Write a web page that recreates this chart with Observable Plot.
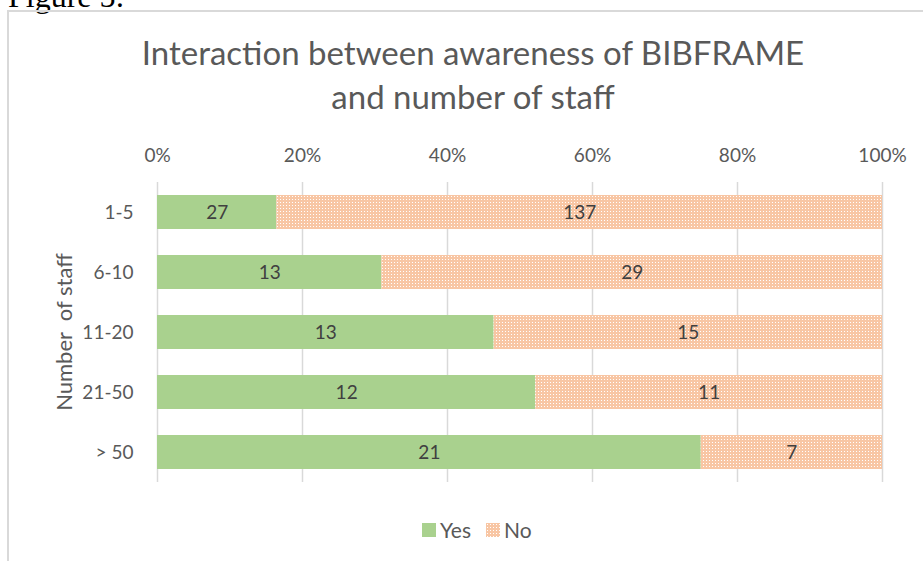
<!DOCTYPE html>
<html><head><meta charset="utf-8">
<script src="https://cdn.jsdelivr.net/npm/d3@7"></script>
<script src="https://cdn.jsdelivr.net/npm/@observablehq/plot@0.6"></script>
<style>
html,body{margin:0;padding:0;background:#fff;}
body{width:923px;height:561px;position:relative;overflow:hidden;font-family:Lato,"Open Sans",sans-serif;color:#595959;}
#fig{position:absolute;left:8px;top:-22px;font-family:"Liberation Serif",serif;font-size:32px;line-height:36px;color:#000;white-space:nowrap;}
#frame{position:absolute;left:7px;top:10px;width:1000px;height:1000px;border:2px solid #d9d9d9;box-sizing:border-box;}
#title{position:absolute;left:0;width:946px;top:30px;text-align:center;font-size:33px;line-height:44px;color:#595959;}
#ylab{position:absolute;left:63px;top:332px;transform:translate(-50%,-50%) rotate(-90deg);font-size:22px;white-space:nowrap;color:#595959;}
#chart{position:absolute;left:0;top:0;}
#legend{position:absolute;top:518px;left:422px;font-size:21px;line-height:24px;display:flex;align-items:center;color:#595959;}
#legend .item{display:inline-flex;align-items:center;margin-right:15px;}
#legend svg{margin-right:4px;}
</style></head><body>
<div id="fig">Figure 5:</div>
<div id="frame"></div>
<div id="title">Interaction between awareness of BIBFRAME<br>and number of staff</div>
<div id="chart"></div>
<div id="ylab">Number&nbsp; of staff</div>
<div id="legend"></div>
<script>
const categories = ["1-5","6-10","11-20","21-50","> 50"];
const series = ["Yes","No"];
const yesValues = [27,13,13,12,21];
const noValues = [137,29,15,11,7];
const xTicks = [0,0.2,0.4,0.6,0.8,1];
const seriesColors = ["#A9D18E","url(#noPattern)"];

const data = [];
categories.forEach((c,i)=>{
  data.push({staff:c, answer:"Yes", count:yesValues[i]});
  data.push({staff:c, answer:"No", count:noValues[i]});
});

function addPattern(sel, id){
  const p = sel.append("pattern").attr("id",id).attr("patternUnits","userSpaceOnUse").attr("width",3).attr("height",3);
  p.append("rect").attr("width",3).attr("height",3).attr("fill","#F8C6A4");
  p.append("rect").attr("x",1).attr("y",1).attr("width",1).attr("height",1).attr("fill","#fff");
}

const plot = Plot.plot({
  width:923, height:561,
  marginLeft:157, marginRight:41, marginTop:182, marginBottom:79,
  style:{fontFamily:"Lato, 'Open Sans', sans-serif", fontSize:"19px", color:"#595959", background:"transparent"},
  x:{domain:[0,1], axis:null},
  y:{domain:categories, paddingInner:0.43, paddingOuter:0.215, axis:null},
  color:{type:"ordinal", domain:series, range:seriesColors},
  marks:[
    Plot.ruleX(xTicks,{stroke:"#d9d9d9", strokeWidth:1.5}),
    Plot.barX(data, Plot.stackX({x:"count", y:"staff", fill:"answer", offset:"normalize", order:series})),
    Plot.text(data, Plot.stackX({x:"count", y:"staff", z:"answer", text:d=>String(d.count), offset:"normalize", order:series, fill:"#404040", fontSize:19})),
    Plot.axisX(xTicks,{anchor:"top", tickSize:0, tickPadding:21, tickFormat:d=>Math.round(d*100)+"%", fontSize:19, color:"#595959", label:null}),
    Plot.axisY({tickSize:0, tickPadding:24, fontSize:19, color:"#595959", label:null})
  ]
});
document.getElementById("chart").appendChild(plot);

const svg = d3.select(plot);
addPattern(svg.insert("defs",":first-child"), "noPattern");

const legend = d3.select("#legend");
series.forEach((s,i)=>{
  const item = legend.append("span").attr("class","item");
  const sw = item.append("svg").attr("width",14).attr("height",14);
  if (i===1){
    addPattern(sw.append("defs"), "noPatternL");
    sw.append("rect").attr("width",14).attr("height",14).attr("fill","url(#noPatternL)");
  } else {
    sw.append("rect").attr("width",14).attr("height",14).attr("fill",seriesColors[0]);
  }
  item.append("span").text(s);
});
</script>
</body></html>
